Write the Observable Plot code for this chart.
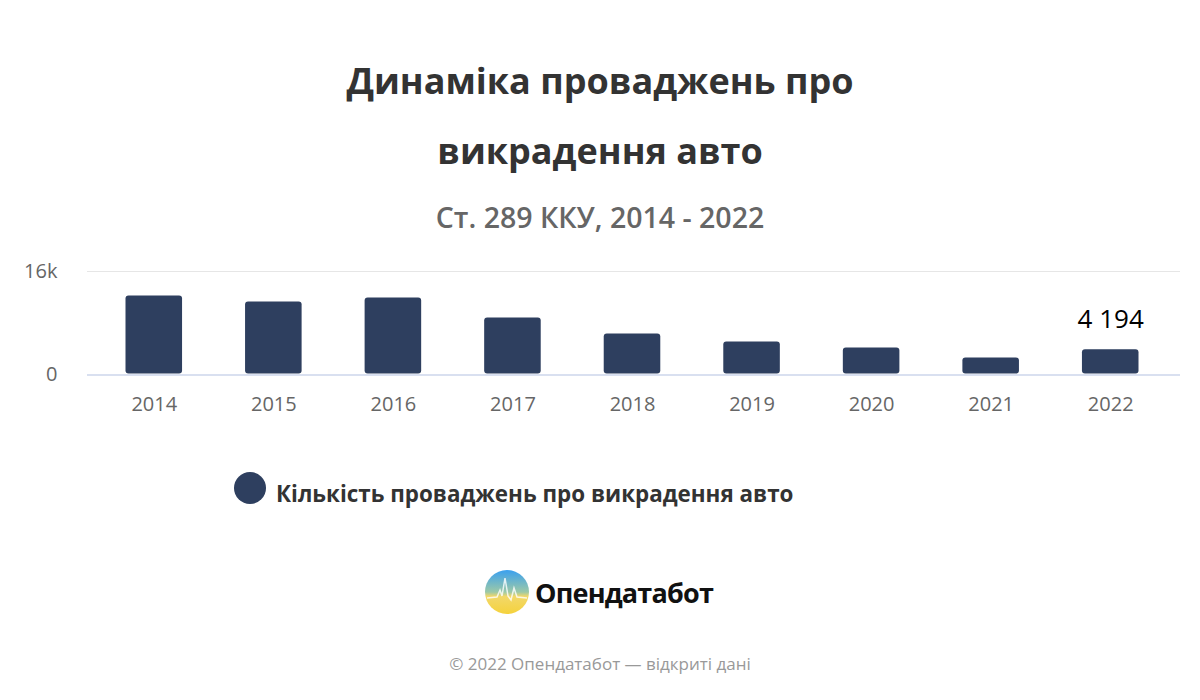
<!DOCTYPE html>
<html><head><meta charset="utf-8">
<script src="https://cdn.jsdelivr.net/npm/d3@7"></script>
<script src="https://cdn.jsdelivr.net/npm/@observablehq/plot@0.6"></script>
<style>
html,body{margin:0;padding:0;background:#fff;width:1200px;height:700px;overflow:hidden;font-family:"Open Sans",sans-serif;}
#wrap{position:relative;width:1200px;height:700px;}
.abs{position:absolute;left:0;width:1200px;text-align:center;}
#t1,#t2{font-size:36px;font-weight:700;color:#333;}
#sub{font-size:28.5px;font-weight:600;color:#666;}
#chart{position:absolute;left:0;top:250px;}
#legend{position:absolute;left:234px;top:472px;display:flex;align-items:center;}
#legend .dot{width:32px;height:32px;border-radius:50%;background:#2e3f5f;margin-right:10px;}
#legend span{font-size:22.4px;font-weight:700;color:#333;position:relative;top:5px;}
#logo{position:absolute;left:485px;top:570px;display:flex;align-items:center;}
#logo span{font-size:27px;font-weight:700;color:#111;letter-spacing:-0.8px;margin-left:6px;}
#foot{font-size:17px;color:#999;}
</style></head>
<body><div id="wrap">
<div class="abs" id="t1" style="top:56px">Динаміка проваджень про</div>
<div class="abs" id="t2" style="top:126px">викрадення авто</div>
<div class="abs" id="sub" style="top:198px">Ст. 289 ККУ, 2014 - 2022</div>
<div id="chart"></div>
<div id="legend"><div class="dot"></div><span>Кількість проваджень про викрадення авто</span></div>
<div id="logo"><svg width="44" height="44" viewBox="0 0 44 44">
<defs><linearGradient id="g" x1="0" y1="0" x2="0" y2="1"><stop offset="0" stop-color="#3aa0ef"/><stop offset="0.5" stop-color="#9cc9a8"/><stop offset="0.6" stop-color="#f2d86a"/><stop offset="1" stop-color="#f5d23c"/></linearGradient></defs>
<circle cx="22" cy="22" r="22" fill="url(#g)"/>
<polyline points="2,28 12,27 15,20 17,26 20,8 23,26 26,30 29,18 32,27 42,28" fill="none" stroke="#fff" stroke-width="1.5" opacity="0.8"/>
</svg><span>Опендатабот</span></div>
<div class="abs" id="foot" style="top:652px">© 2022 Опендатабот — відкриті дані</div>
</div>
<script>
const years = ["2014","2015","2016","2017","2018","2019","2020","2021","2022"];
const cases = [12520, 11600, 12210, 9120, 6650, 5410, 4480, 2940, 4194];
const yTicks = [0, 16000];
const labelYears = ["2022"];

const data = years.map((y, i) => ({year: y, value: cases[i]}));
const fmt = d3.formatLocale({decimal: ",", thousands: " ", grouping: [3]}).format(",");

const chart = Plot.plot({
  width: 1200,
  height: 180,
  marginLeft: 94,
  marginRight: 30,
  marginTop: 21,
  marginBottom: 55.5,
  style: {fontFamily: "Open Sans, sans-serif", background: "transparent"},
  x: {domain: years, padding: 0, round: false, label: null},
  y: {domain: [0, 16000], label: null},
  marks: [
    Plot.ruleY([16000], {stroke: "#e6e6e6", strokeWidth: 1, insetLeft: -7, insetRight: -10}),
    Plot.barY(data, {x: "year", y: "value", fill: "#2e3f5f", insetLeft: 31.5, insetRight: 31.5, insetTop: 2, insetBottom: 1, rx: 3}),
    Plot.ruleY([0], {stroke: "#ccd6eb", strokeWidth: 1.5, insetLeft: -7, insetRight: -10}),
    Plot.text(data.filter(d => labelYears.includes(d.year)), {x: "year", y: "value", text: d => fmt(d.value), dy: -28, fontSize: 26, fill: "#000"}),
    Plot.axisX({tickSize: 0, tickPadding: 22, fontSize: 20, color: "#666", label: null}),
    Plot.axisY({ticks: yTicks, tickSize: 0, tickPadding: 37, fontSize: 20, color: "#666", label: null, tickFormat: d => d === 0 ? "0" : (d / 1000) + "k"})
  ]
});
document.getElementById("chart").appendChild(chart);
</script>
</body></html>
